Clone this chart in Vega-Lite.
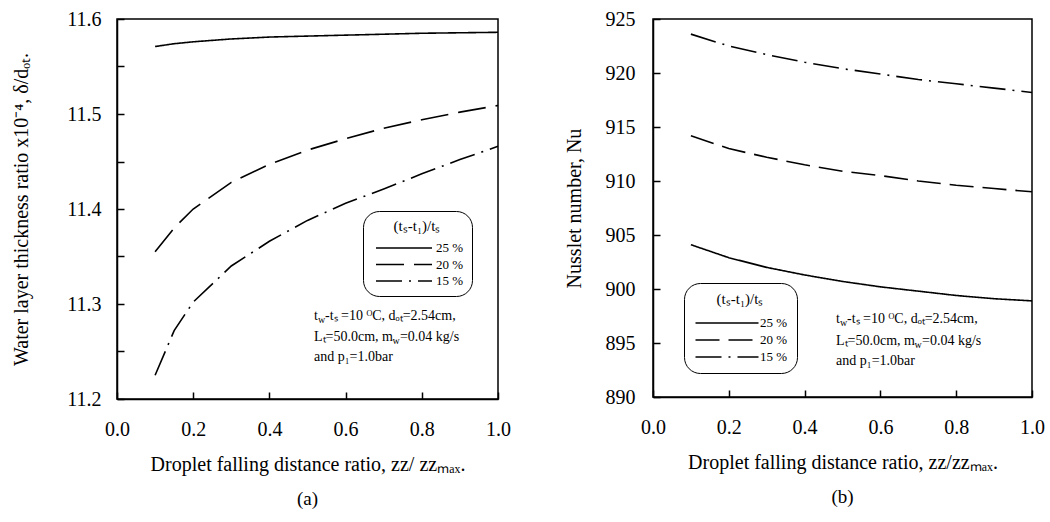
{
  "$schema": "https://vega.github.io/schema/vega-lite/v6.json",
  "background": "white",
  "padding": {"left": 10, "top": 8, "right": 4, "bottom": 5},
  "spacing": 51,
  "resolve": {"scale": {"strokeDash": "independent"}, "legend": {"strokeDash": "independent"}},
  "config": {
    "font": "Liberation Serif",
    "view": {"stroke": "black", "strokeWidth": 1.5},
    "axis": {
      "domainColor": "black", "domainWidth": 1.5,
      "tickColor": "black", "tickWidth": 1.5, "tickSize": -7,
      "labelFont": "Liberation Serif", "labelFontSize": 20, "labelColor": "black", "labelFlush": false,
      "titleFont": "Liberation Serif", "titleFontSize": 20, "titleFontWeight": "normal", "titleColor": "black",
      "grid": false
    },
    "line": {"color": "black", "strokeWidth": 1.6},
    "text": {"font": "Liberation Serif", "fontSize": 14, "color": "black", "align": "left", "baseline": "middle"}
  },
  "hconcat": [
    {
      "width": 381, "height": 380,
      "title": {"text": "(a)", "orient": "bottom", "fontSize": 19, "fontWeight": "normal", "font": "Liberation Serif", "color": "black", "offset": 16},
      "layer": [
        {
          "data": {"values": [
            {"zz": 0.1, "val": 11.571, "ratio": "25 %"}, {"zz": 0.15, "val": 11.574, "ratio": "25 %"}, {"zz": 0.2, "val": 11.576, "ratio": "25 %"}, {"zz": 0.3, "val": 11.579, "ratio": "25 %"}, {"zz": 0.4, "val": 11.581, "ratio": "25 %"}, {"zz": 0.5, "val": 11.582, "ratio": "25 %"}, {"zz": 0.6, "val": 11.583, "ratio": "25 %"}, {"zz": 0.7, "val": 11.584, "ratio": "25 %"}, {"zz": 0.8, "val": 11.585, "ratio": "25 %"}, {"zz": 0.9, "val": 11.5855, "ratio": "25 %"}, {"zz": 1.0, "val": 11.586, "ratio": "25 %"},
            {"zz": 0.1, "val": 11.355, "ratio": "20 %"}, {"zz": 0.15, "val": 11.380, "ratio": "20 %"}, {"zz": 0.2, "val": 11.400, "ratio": "20 %"}, {"zz": 0.3, "val": 11.428, "ratio": "20 %"}, {"zz": 0.4, "val": 11.447, "ratio": "20 %"}, {"zz": 0.5, "val": 11.462, "ratio": "20 %"}, {"zz": 0.6, "val": 11.474, "ratio": "20 %"}, {"zz": 0.7, "val": 11.485, "ratio": "20 %"}, {"zz": 0.8, "val": 11.494, "ratio": "20 %"}, {"zz": 0.9, "val": 11.502, "ratio": "20 %"}, {"zz": 1.0, "val": 11.509, "ratio": "20 %"},
            {"zz": 0.1, "val": 11.225, "ratio": "15 %"}, {"zz": 0.15, "val": 11.272, "ratio": "15 %"}, {"zz": 0.2, "val": 11.302, "ratio": "15 %"}, {"zz": 0.3, "val": 11.340, "ratio": "15 %"}, {"zz": 0.4, "val": 11.366, "ratio": "15 %"}, {"zz": 0.5, "val": 11.388, "ratio": "15 %"}, {"zz": 0.6, "val": 11.406, "ratio": "15 %"}, {"zz": 0.7, "val": 11.421, "ratio": "15 %"}, {"zz": 0.8, "val": 11.437, "ratio": "15 %"}, {"zz": 0.9, "val": 11.452, "ratio": "15 %"}, {"zz": 1.0, "val": 11.466, "ratio": "15 %"}
          ]},
          "mark": {"type": "line"},
          "encoding": {
            "x": {"field": "zz", "type": "quantitative", "scale": {"domain": [0, 1]},
                  "axis": {"values": [0, 0.1, 0.2, 0.3, 0.4, 0.5, 0.6, 0.7, 0.8, 0.9, 1.0], "labelExpr": "round(datum.value*10)%2==0 ? format(datum.value,'.1f') : ''", "labelPadding": 27, "titlePadding": 15, "title": "Droplet falling distance ratio, zz/ zzₘₐₓ."}},
            "y": {"field": "val", "type": "quantitative", "scale": {"domain": [11.2, 11.6]},
                  "axis": {"values": [11.2, 11.25, 11.3, 11.35, 11.4, 11.45, 11.5, 11.55, 11.6], "labelExpr": "round(datum.value*100)%10==0 ? format(datum.value,'.1f') : ''", "labelPadding": 23, "titlePadding": 35, "title": "Water layer thickness ratio x10⁻⁴, δ/dₒₜ."}},
            "strokeDash": {"field": "ratio", "type": "nominal",
                           "scale": {"domain": ["25 %", "20 %", "15 %"], "range": [[1, 0], [28, 10], [26, 7, 2, 7]]},
                           "legend": {"orient": "none", "legendX": 246, "legendY": 192, "title": "(tₛ-t₁)/tₛ", "titleAnchor": "middle", "titleFont": "Liberation Serif", "titleFontSize": 15, "titleFontWeight": "normal", "titleColor": "black", "titlePadding": 5, "labelFont": "Liberation Serif", "labelFontSize": 13, "labelColor": "black", "symbolType": "M-3.5,0H3.5", "symbolSize": 256, "symbolOffset": 24, "labelOffset": 23, "symbolStrokeWidth": 1.5, "symbolStrokeColor": "black", "symbolFillColor": "transparent", "strokeColor": "black", "cornerRadius": 16, "padding": 8, "fillColor": "white", "rowPadding": 0.5}}
          }
        },
        {"data": {"values": [{}]}, "mark": {"type": "text", "text": "t"}, "encoding": {"x": {"datum": 0.517}, "y": {"datum": 11.2874}}},
        {"data": {"values": [{}]}, "mark": {"type": "text", "text": "w", "fontSize": 10, "dx": 4, "dy": 4}, "encoding": {"x": {"datum": 0.517}, "y": {"datum": 11.2874}}},
        {"data": {"values": [{}]}, "mark": {"type": "text", "text": "-tₛ =10 ᴼC, dₒₜ=2.54cm,", "dx": 11}, "encoding": {"x": {"datum": 0.517}, "y": {"datum": 11.2874}}},
        {"data": {"values": [{}]}, "mark": {"type": "text", "text": "Lₜ=50.0cm, m"}, "encoding": {"x": {"datum": 0.517}, "y": {"datum": 11.2653}}},
        {"data": {"values": [{}]}, "mark": {"type": "text", "text": "w", "fontSize": 10, "dx": 78.5, "dy": 4}, "encoding": {"x": {"datum": 0.517}, "y": {"datum": 11.2653}}},
        {"data": {"values": [{}]}, "mark": {"type": "text", "text": "=0.04 kg/s", "dx": 86}, "encoding": {"x": {"datum": 0.517}, "y": {"datum": 11.2653}}},
        {"data": {"values": [{}]}, "mark": {"type": "text", "text": "and  p₁=1.0bar"}, "encoding": {"x": {"datum": 0.517}, "y": {"datum": 11.2442}}}
      ]
    },
    {
      "width": 379, "height": 378,
      "title": {"text": "(b)", "orient": "bottom", "fontSize": 19, "fontWeight": "normal", "font": "Liberation Serif", "color": "black", "offset": 16},
      "layer": [
        {
          "data": {"values": [
            {"zz": 0.1, "val": 904.1, "ratio": "25 %"}, {"zz": 0.2, "val": 902.9, "ratio": "25 %"}, {"zz": 0.3, "val": 902.0, "ratio": "25 %"}, {"zz": 0.4, "val": 901.3, "ratio": "25 %"}, {"zz": 0.5, "val": 900.7, "ratio": "25 %"}, {"zz": 0.6, "val": 900.2, "ratio": "25 %"}, {"zz": 0.7, "val": 899.8, "ratio": "25 %"}, {"zz": 0.8, "val": 899.4, "ratio": "25 %"}, {"zz": 0.9, "val": 899.1, "ratio": "25 %"}, {"zz": 1.0, "val": 898.9, "ratio": "25 %"},
            {"zz": 0.1, "val": 914.2, "ratio": "20 %"}, {"zz": 0.2, "val": 913.0, "ratio": "20 %"}, {"zz": 0.3, "val": 912.2, "ratio": "20 %"}, {"zz": 0.4, "val": 911.5, "ratio": "20 %"}, {"zz": 0.5, "val": 910.9, "ratio": "20 %"}, {"zz": 0.6, "val": 910.5, "ratio": "20 %"}, {"zz": 0.7, "val": 910.0, "ratio": "20 %"}, {"zz": 0.8, "val": 909.6, "ratio": "20 %"}, {"zz": 0.9, "val": 909.3, "ratio": "20 %"}, {"zz": 1.0, "val": 909.0, "ratio": "20 %"},
            {"zz": 0.1, "val": 923.6, "ratio": "15 %"}, {"zz": 0.2, "val": 922.5, "ratio": "15 %"}, {"zz": 0.3, "val": 921.7, "ratio": "15 %"}, {"zz": 0.4, "val": 921.0, "ratio": "15 %"}, {"zz": 0.5, "val": 920.4, "ratio": "15 %"}, {"zz": 0.6, "val": 919.9, "ratio": "15 %"}, {"zz": 0.7, "val": 919.4, "ratio": "15 %"}, {"zz": 0.8, "val": 919.0, "ratio": "15 %"}, {"zz": 0.9, "val": 918.6, "ratio": "15 %"}, {"zz": 1.0, "val": 918.2, "ratio": "15 %"}
          ]},
          "mark": {"type": "line"},
          "encoding": {
            "x": {"field": "zz", "type": "quantitative", "scale": {"domain": [0, 1]},
                  "axis": {"values": [0, 0.1, 0.2, 0.3, 0.4, 0.5, 0.6, 0.7, 0.8, 0.9, 1.0], "labelExpr": "round(datum.value*10)%2==0 ? format(datum.value,'.1f') : ''", "labelPadding": 27, "titlePadding": 15, "title": "Droplet falling distance ratio, zz/zzₘₐₓ."}},
            "y": {"field": "val", "type": "quantitative", "scale": {"domain": [890, 925]},
                  "axis": {"values": [890, 892.5, 895, 897.5, 900, 902.5, 905, 907.5, 910, 912.5, 915, 917.5, 920, 922.5, 925], "labelExpr": "datum.value%5==0 ? format(datum.value,'d') : ''", "labelPadding": 25, "titlePadding": 21, "title": "Nusslet number, Nu"}},
            "strokeDash": {"field": "ratio", "type": "nominal",
                           "scale": {"domain": ["25 %", "20 %", "15 %"], "range": [[1, 0], [24, 9], [26, 7, 2, 7]]},
                           "legend": {"orient": "none", "legendX": 31, "legendY": 264, "title": "(tₛ-t₁)/tₛ", "titleAnchor": "middle", "titleFont": "Liberation Serif", "titleFontSize": 15, "titleFontWeight": "normal", "titleColor": "black", "titlePadding": 6, "labelFont": "Liberation Serif", "labelFontSize": 13, "labelColor": "black", "symbolType": "M-3.5,0H3.5", "symbolSize": 324, "symbolOffset": 24, "labelOffset": 23, "symbolStrokeWidth": 1.5, "symbolStrokeColor": "black", "symbolFillColor": "transparent", "strokeColor": "black", "cornerRadius": 16, "padding": 9, "fillColor": "white", "rowPadding": 0}}
          }
        },
        {"data": {"values": [{}]}, "mark": {"type": "text", "text": "t"}, "encoding": {"x": {"datum": 0.483}, "y": {"datum": 897.2}}},
        {"data": {"values": [{}]}, "mark": {"type": "text", "text": "w", "fontSize": 10, "dx": 4, "dy": 4}, "encoding": {"x": {"datum": 0.483}, "y": {"datum": 897.2}}},
        {"data": {"values": [{}]}, "mark": {"type": "text", "text": "-tₛ =10 ᴼC, dₒₜ=2.54cm,", "dx": 11}, "encoding": {"x": {"datum": 0.483}, "y": {"datum": 897.2}}},
        {"data": {"values": [{}]}, "mark": {"type": "text", "text": "Lₜ=50.0cm, m"}, "encoding": {"x": {"datum": 0.483}, "y": {"datum": 895.2}}},
        {"data": {"values": [{}]}, "mark": {"type": "text", "text": "w", "fontSize": 10, "dx": 78.5, "dy": 4}, "encoding": {"x": {"datum": 0.483}, "y": {"datum": 895.2}}},
        {"data": {"values": [{}]}, "mark": {"type": "text", "text": "=0.04 kg/s", "dx": 86}, "encoding": {"x": {"datum": 0.483}, "y": {"datum": 895.2}}},
        {"data": {"values": [{}]}, "mark": {"type": "text", "text": "and  p₁=1.0bar"}, "encoding": {"x": {"datum": 0.483}, "y": {"datum": 893.3}}}
      ]
    }
  ]
}
